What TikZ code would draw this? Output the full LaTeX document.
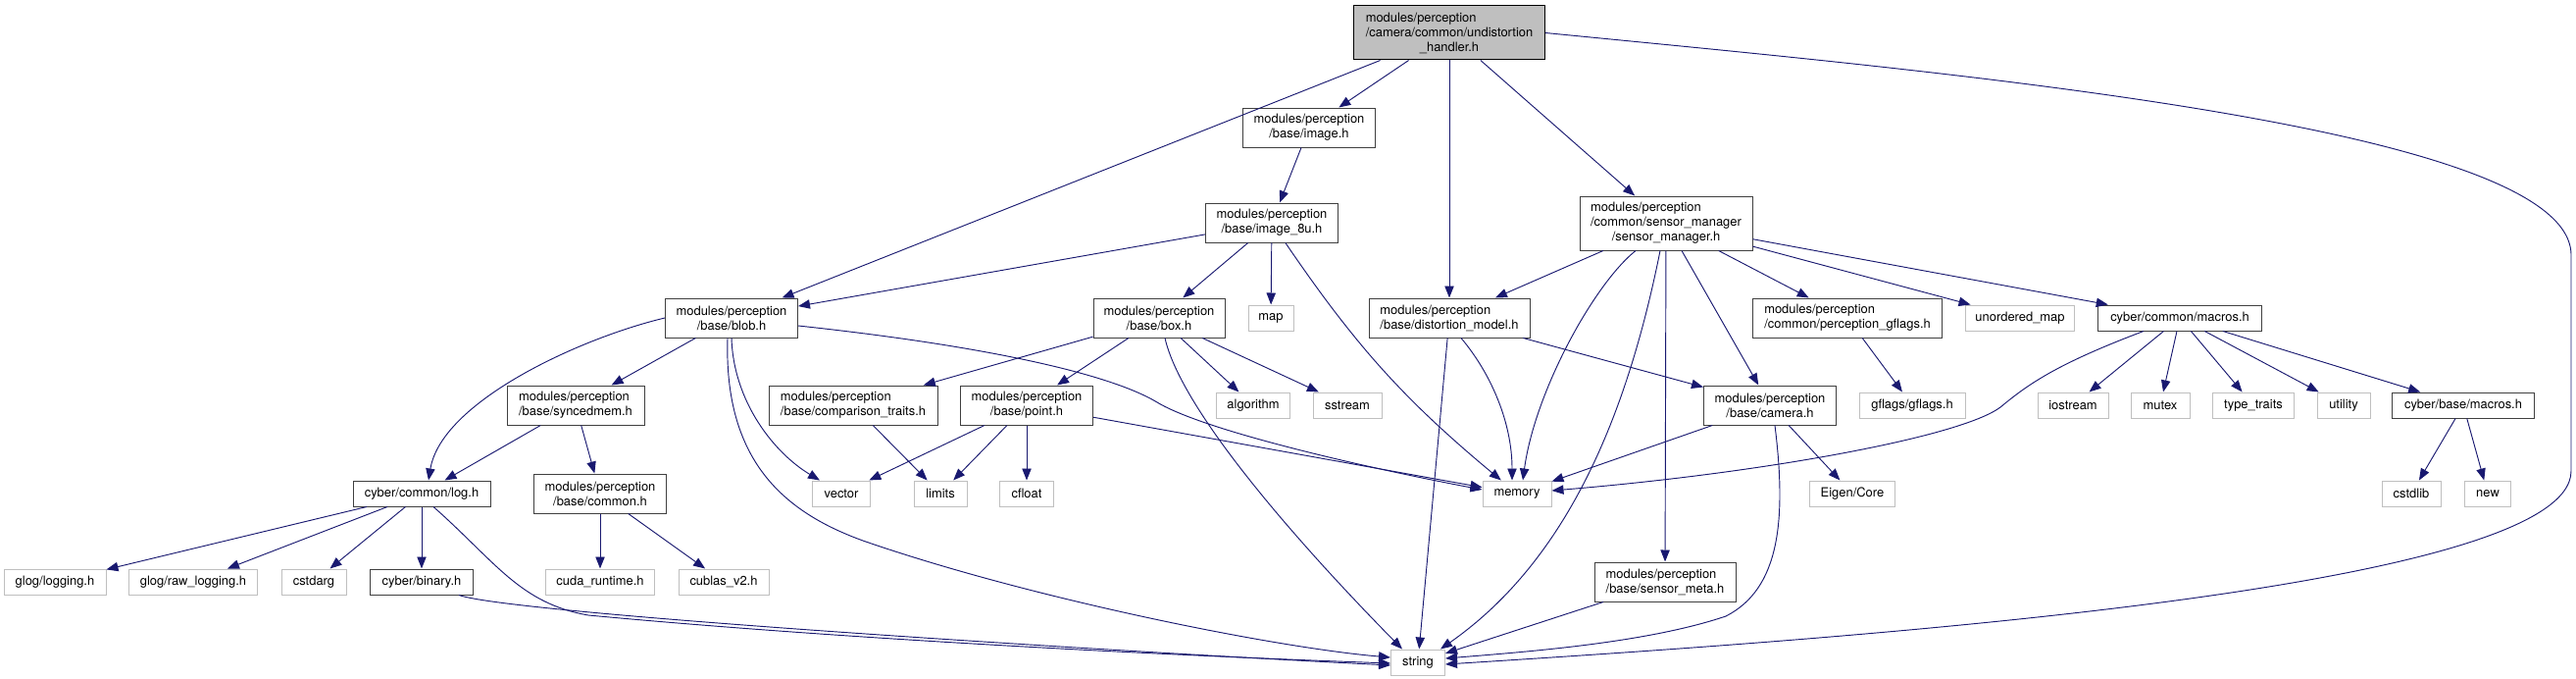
\documentclass[tikz,border=0pt]{standalone}
\usepackage{fontspec}
\setmainfont{TeX Gyre Heros}
\usetikzlibrary{arrows.meta, calc}

\definecolor{edgeblue}{HTML}{191970}
\definecolor{mainfill}{HTML}{BFBFBF}

% left-align a short line to the width of a longer one
\newlength\firstlinewd
\newcommand\padleft[2]{\settowidth{\firstlinewd}{#2}\makebox[\firstlinewd][l]{#1}}

\begin{document}
\begin{tikzpicture}[
	x=0.75pt, y=-0.75pt,
	font=\fontsize{9.7pt}{11.3pt}\selectfont,
	hfile/.style={draw=black!75, fill=white, line width=0.75pt, inner sep=0pt, align=center, minimum height=19.5pt, minimum width=#1*0.75pt},
	sysfile/.style={hfile=#1, draw=black!25},
	tall/.style={minimum height=30pt},
	taller/.style={minimum height=41.25pt},
	dep/.style={draw=edgeblue, line width=0.7pt, -{Triangle[length=9pt, width=7pt]}}
	]
	\useasboundingbox (0,0) rectangle (2627,692);
	
	% Nodes
	\node[hfile=195, taller, fill=mainfill, draw=black] (undist) at (1478,33.5) {\padleft{modules/perception}{/camera/common/undistortion}\\/camera/common/undistortion\\\_handler.h};
	\node[hfile=135, tall] (image) at (1335,130) {modules/perception\\/base/image.h};
	\node[hfile=135, tall] (image8u) at (1297,227) {modules/perception\\/base/image\_8u.h};
	\node[hfile=176, taller] (sensormgr) at (1699,227.5) {\padleft{modules/perception}{/common/sensor\_manager}\\/common/sensor\_manager\\/sensor\_manager.h};
	
	\node[hfile=135, tall] (blob) at (746,324) {modules/perception\\/base/blob.h};
	\node[hfile=134, tall] (box) at (1182,324) {modules/perception\\/base/box.h};
	\node[sysfile=46] (map) at (1296,324) {map};
	\node[hfile=164, tall, align=left] (distmodel) at (1478,324) {modules/perception\\/base/distortion\_model.h};
	\node[hfile=193, tall, align=left] (percgflags) at (1884,324) {modules/perception\\/common/perception\_gflags.h};
	\node[sysfile=111] (unordmap) at (2060,324) {unordered\_map};
	\node[hfile=167] (cmacros) at (2223,324) {cyber/common/macros.h};
	
	\node[hfile=140, tall, align=left] (syncedmem) at (587,413) {modules/perception\\/base/syncedmem.h};
	\node[hfile=172, tall, align=left] (comptraits) at (870,413) {modules/perception\\/base/comparison\_traits.h};
	\node[hfile=135, tall] (point) at (1047,413) {modules/perception\\/base/point.h};
	\node[sysfile=75] (algorithm) at (1278,413) {algorithm};
	\node[sysfile=70] (sstream) at (1374,413) {sstream};
	\node[hfile=135, tall] (camera) at (1805,413) {modules/perception\\/base/camera.h};
	\node[sysfile=108] (gflags) at (1950,413) {gflags/gflags.h};
	\node[sysfile=72] (iostream) at (2114,413) {iostream};
	\node[sysfile=60] (mutex) at (2203,413) {mutex};
	\node[sysfile=83] (typetraits) at (2298,413) {type\_traits};
	\node[sysfile=54] (utility) at (2390,413) {utility};
	\node[hfile=145] (bmacros) at (2512,413) {cyber/base/macros.h};
	
	\node[hfile=140] (log) at (430,503) {cyber/common/log.h};
	\node[hfile=135, tall] (common) at (612,503) {modules/perception\\/base/common.h};
	\node[sysfile=59] (vector) at (858,503) {vector};
	\node[sysfile=54] (limits) at (959,503) {limits};
	\node[sysfile=55] (cfloat) at (1047,503) {cfloat};
	\node[sysfile=70] (memory) at (1547,503) {memory};
	\node[sysfile=87] (eigen) at (1889,503) {Eigen/Core};
	\node[sysfile=60] (cstdlib) at (2459,503) {cstdlib};
	\node[sysfile=47] (newhdr) at (2537,503) {new};
	
	\node[sysfile=104] (glogging) at (56,593) {glog/logging.h};
	\node[sysfile=131] (rawlogging) at (197,593) {glog/raw\_logging.h};
	\node[sysfile=66] (cstdarg) at (320,593) {cstdarg};
	\node[hfile=105] (binary) at (430,593) {cyber/binary.h};
	\node[sysfile=111] (cuda) at (612,593) {cuda\_runtime.h};
	\node[sysfile=92] (cublas) at (738,593) {cublas\_v2.h};
	\node[hfile=144, tall, align=left] (sensormeta) at (1698,593) {modules/perception\\/base/sensor\_meta.h};
	
	\node[sysfile=55] (string) at (1446,675) {string};
	
	% Arrows from the main header
	\draw[dep] (undist) -- (blob);
	\draw[dep] (undist) -- (image);
	\draw[dep] (undist) -- (distmodel);
	\draw[dep] (undist) -- (sensormgr);
	\draw[dep] (undist.east) .. controls (2000,75) and (2622,130) .. (2622,260) -- (2622,480)
		.. controls (2622,600) and (1900,650) .. ($(string.east)+(0,2)$);
	
	% Arrows (image headers)
	\draw[dep] (image) -- (image8u);
	\draw[dep] (image8u) -- (blob);
	\draw[dep] (image8u) -- (box);
	\draw[dep] (image8u) -- (map);
	\draw[dep] (image8u) to[bend right=8] (memory);
	
	% Arrows (blob.h)
	\draw[dep] (blob.west) .. controls (590,345) and (450,410) .. ($(log.north)+(7,0)$);
	\draw[dep] (blob) -- (syncedmem);
	\draw[dep] (blob.south) .. controls (748,410) and (790,462) .. ($(vector.north west)+(8,0)$);
	\draw[dep] ($(blob.south)+(-4,0)$) .. controls (738,470) and (800,522) .. (880,551)
		.. controls (1050,610) and (1300,660) .. ($(string.west)+(0,-5)$);
	\draw[dep] ($(blob.east)+(0,8)$) .. controls (1000,352) and (1130,380) .. (1180,410)
		.. controls (1230,440) and (1400,478) .. ($(memory.west)+(0,-4)$);
	
	% Arrows (box.h, point.h, comparison_traits.h)
	\draw[dep] (box) -- (comptraits);
	\draw[dep] (box) -- (point);
	\draw[dep] ($(box.south)+(6,0)$) .. controls (1205,420) and (1330,560) .. ($(string.north west)+(12,0)$);
	\draw[dep] (box) -- (algorithm);
	\draw[dep] (box) -- (sstream);
	\draw[dep] (comptraits) -- (limits);
	\draw[dep] (point) -- (vector);
	\draw[dep] (point) -- (limits);
	\draw[dep] (point) -- (cfloat);
	\draw[dep] (point) -- (memory);
	
	% Arrows (syncedmem.h, log.h, common.h)
	\draw[dep] (syncedmem) -- (log);
	\draw[dep] (syncedmem) -- (common);
	\draw[dep] (log) -- (glogging);
	\draw[dep] (log) -- (rawlogging);
	\draw[dep] (log) -- (cstdarg);
	\draw[dep] (log) -- (binary);
	\draw[dep] ($(log.south)+(12,0)$) .. controls (505,572) and (530,615) .. (600,627)
		.. controls (900,655) and (1250,670) .. ($(string.west)+(0,1)$);
	\draw[dep] ($(binary.south east)+(-15,0)$) .. controls (520,625) and (1100,662) .. ($(string.west)+(0,3)$);
	\draw[dep] (common) -- (cuda);
	\draw[dep] (common) -- (cublas);
	
	% Arrows (distortion_model.h, sensor_manager.h)
	\draw[dep] (distmodel) -- (string);
	\draw[dep] ($(distmodel.south)+(12,0)$) .. controls (1520,380) and (1542,430) .. ($(memory.north)+(-5,0)$);
	\draw[dep] (distmodel) -- (camera);
	\draw[dep] (sensormgr) -- (distmodel);
	\draw[dep] ($(sensormgr.south)+(-31,0)$) .. controls (1625,290) and (1565,400) .. ($(memory.north)+(6,0)$);
	\draw[dep] ($(sensormgr.south)+(-6,0)$) .. controls (1660,420) and (1600,570) .. ($(string.north east)+(-5,0)$);
	\draw[dep] (sensormgr) -- (sensormeta);
	\draw[dep] (sensormgr) -- (camera);
	\draw[dep] (sensormgr) -- (percgflags);
	\draw[dep] (sensormgr) -- (unordmap);
	\draw[dep] (sensormgr) -- (cmacros);
	
	% Arrows (camera.h, gflags, sensor_meta.h)
	\draw[dep] (camera) -- (memory);
	\draw[dep] (camera) -- (eigen);
	\draw[dep] ($(camera.south)+(5,0)$) .. controls (1822,530) and (1815,600) .. (1760,628)
		.. controls (1680,655) and (1560,664) .. ($(string.east)+(0,-4)$);
	\draw[dep] (percgflags) -- (gflags);
	\draw[dep] (sensormeta) -- (string);
	
	% Arrows (macros headers)
	\draw[dep] ($(cmacros.south west)+(47,0)$) .. controls (2100,370) and (2070,390) .. (2040,415)
		.. controls (2000,445) and (1800,482) .. ($(memory.east)+(0,-3)$);
	\draw[dep] (cmacros) -- (iostream);
	\draw[dep] (cmacros) -- (mutex);
	\draw[dep] (cmacros) -- (typetraits);
	\draw[dep] (cmacros) -- (utility);
	\draw[dep] (cmacros) -- (bmacros);
	\draw[dep] (bmacros) -- (cstdlib);
	\draw[dep] (bmacros) -- (newhdr);
	
\end{tikzpicture}
\end{document}
